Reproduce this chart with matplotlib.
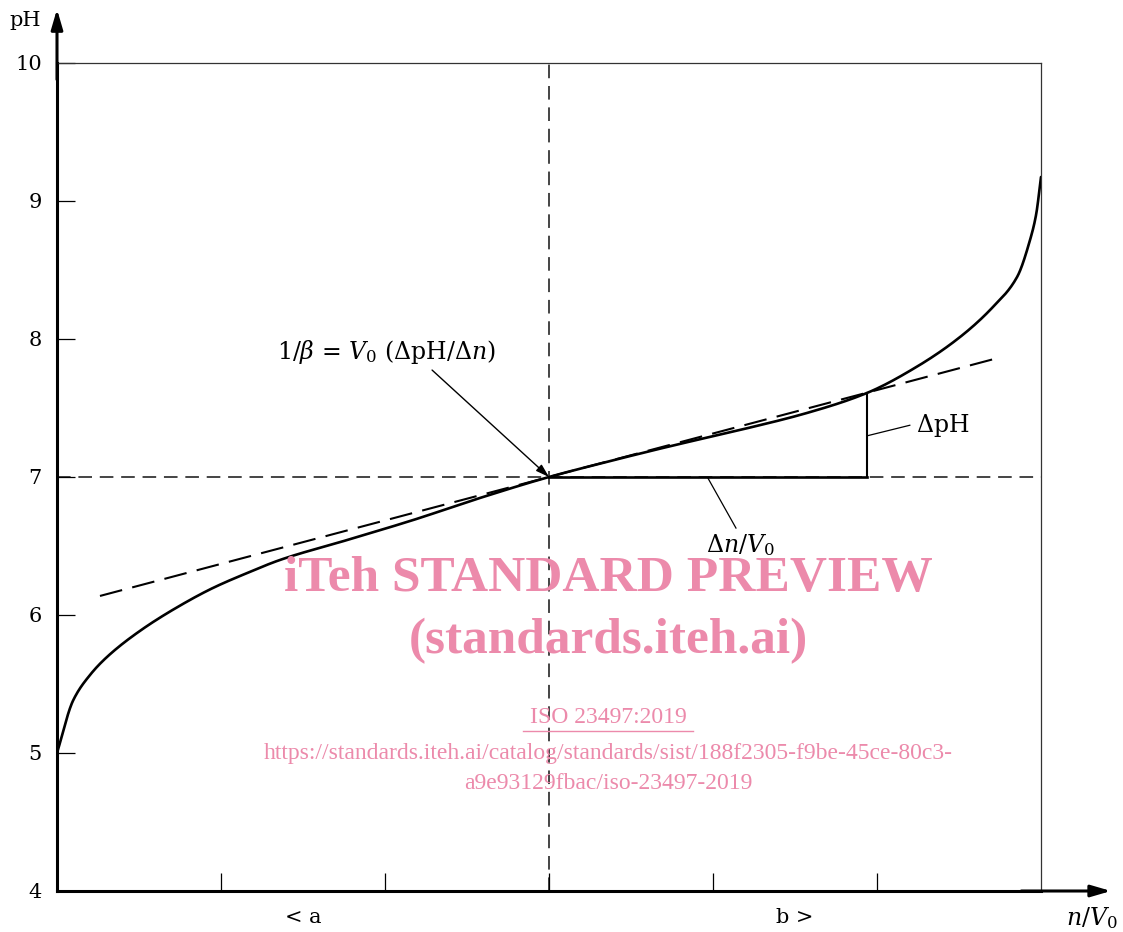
import numpy as np
import matplotlib.pyplot as plt

plt.rcParams['mathtext.fontset'] = 'dejavuserif'
plt.rcParams['font.family'] = 'DejaVu Serif'

# titration curve (x = n/V0 in tick units, y = pH)
curve_x = [-3.0, -2.902, -2.799, -2.695, -2.494, -2.25, -2.049, -1.841, -1.64,
           -1.232, -0.829, -0.421, 0.0, 0.354, 0.756, 1.165, 1.573, 1.939,
           2.244, 2.506, 2.707, 2.854, 2.933, 2.97, 3.0]
curve_ph = [5.0, 5.38, 5.565, 5.696, 5.885, 6.068, 6.196, 6.304, 6.399,
            6.543, 6.688, 6.848, 7.0, 7.11, 7.228, 7.341, 7.464, 7.609,
            7.80, 8.014, 8.232, 8.449, 8.717, 8.9, 9.174]

# tangent at the equivalence point
tangent_x = [-2.738, 2.72]
tangent_ph = [6.138, 7.857]

# the delta triangle
tri_x = 1.939
tri_ph = 7.609

y_ticks = [4, 5, 6, 7, 8, 9, 10]
x_ticks = [-2, -1, 0, 1, 2]
x_label_pos = [-1.5, 0, 1.5]
x_labels = ['< a', '0', 'b >']


def pchip(xs, ys, n=25):
    # monotone cubic through the read points, just so the line has no corners
    x = np.asarray(xs, float)
    y = np.asarray(ys, float)
    h = np.diff(x)
    dl = np.diff(y) / h
    d = np.zeros_like(y)
    d[0], d[-1] = dl[0], dl[-1]
    for k in range(1, len(x) - 1):
        if dl[k - 1] * dl[k] > 0:
            w1 = 2 * h[k] + h[k - 1]
            w2 = h[k] + 2 * h[k - 1]
            d[k] = (w1 + w2) / (w1 / dl[k - 1] + w2 / dl[k])
    px, py = [], []
    for k in range(len(x) - 1):
        t = np.linspace(0, 1, n, endpoint=False)
        h00 = 2 * t**3 - 3 * t**2 + 1
        h10 = t**3 - 2 * t**2 + t
        h01 = -2 * t**3 + 3 * t**2
        h11 = t**3 - t**2
        px.append(x[k] + t * h[k])
        py.append(h00 * y[k] + h10 * h[k] * d[k] + h01 * y[k + 1] + h11 * h[k] * d[k + 1])
    px.append([x[-1]])
    py.append([y[-1]])
    return np.concatenate(px), np.concatenate(py)


fig = plt.figure(figsize=(11.23, 9.32), dpi=100)
ax = fig.add_axes([57/1123, 41/932, 984/1123, 828/932])
ax.set_xlim(-3, 3)
ax.set_ylim(4, 10)

# frame
for s in ['top', 'right']:
    ax.spines[s].set_linewidth(0.9)
    ax.spines[s].set_color('#333333')
for s in ['left', 'bottom']:
    ax.spines[s].set_linewidth(2.2)
    ax.spines[s].set_color('black')

# axis arrows
arrow = dict(arrowstyle='-|>,head_length=1.2,head_width=0.35',
             color='black', lw=2.2, shrinkA=0, shrinkB=0)
ax.annotate('', xy=(0, 1.065), xytext=(0, 0.98), xycoords='axes fraction',
            arrowprops=arrow, annotation_clip=False)
ax.annotate('', xy=(1.0 + 70/984, 0), xytext=(0.98, 0), xycoords='axes fraction',
            arrowprops=arrow, annotation_clip=False)

ax.set_yticks(y_ticks)
ax.set_yticklabels([str(v) for v in y_ticks], fontsize=15)
ax.tick_params(axis='y', direction='in', length=13, width=0.9, pad=11, colors='black')
ax.set_xticks(x_ticks)
ax.set_xticklabels(['' for _ in x_ticks])
ax.tick_params(axis='x', direction='in', length=13, width=0.9)
ax.set_xticks(x_label_pos, minor=True)
ax.set_xticklabels(x_labels, minor=True, fontsize=15)
ax.tick_params(axis='x', which='minor', length=0, pad=12)

# reference dashed lines
ax.axhline(7, color='#444444', lw=1.4, ls=(0, (7, 4)), zorder=1)
ax.axvline(0, color='#444444', lw=1.4, ls=(0, (7, 4)), zorder=1)

# curve and tangent
sx, sy = pchip(curve_x, curve_ph)
ax.plot(sx, sy, color='black', lw=1.9, zorder=3, solid_capstyle='round')
ax.plot(tangent_x, tangent_ph, color='black', lw=1.5, ls=(0, (11, 5)), zorder=3)

# triangle
ax.plot([0, tri_x], [7, 7], color='black', lw=1.9, zorder=3)
ax.plot([tri_x, tri_x], [7, tri_ph], color='black', lw=1.5, zorder=3)

# annotations
ax.annotate('', xy=(0, 7), xytext=(-0.713, 7.775),
            arrowprops=dict(arrowstyle='-|>,head_length=0.8,head_width=0.25',
                            color='black', lw=1.0, shrinkA=0, shrinkB=0))
ax.text(-0.994, 7.906, r'$1/\beta$ = $V_0$ ($\Delta\mathrm{pH}/\Delta n$)', fontsize=17,
        ha='center', va='center')
ax.plot([1.945, 2.2], [7.3, 7.375], color='black', lw=0.9)
ax.text(2.24, 7.375, r'$\Delta\mathrm{pH}$', fontsize=17, ha='left', va='center')
ax.plot([0.97, 1.14], [6.99, 6.63], color='black', lw=0.9)
ax.text(1.17, 6.51, r'$\Delta n/V_0$', fontsize=17, ha='center', va='center')

# axis titles
fig.text(25/1123, 1 - 20/932, 'pH', fontsize=15, ha='center', va='center')
fig.text(1092/1123, 1 - 918/932, r'$n/V_0$', fontsize=17, ha='center', va='center')

# watermark
pink = '#ec8aab'
ax.text(0.36, 6.26, 'iTeh STANDARD PREVIEW', fontsize=37, fontweight='bold',
        family='Liberation Serif', color=pink, ha='center', va='center')
ax.text(0.36, 5.81, '(standards.iteh.ai)', fontsize=37, fontweight='bold',
        family='Liberation Serif', color=pink, ha='center', va='center')
ax.text(0.36, 5.26, 'ISO 23497:2019', fontsize=17, family='Liberation Serif',
        color=pink, ha='center', va='center')
ax.plot([-0.16, 0.88], [5.16, 5.16], color=pink, lw=1.0)
ax.text(0.36, 5.0, 'https://standards.iteh.ai/catalog/standards/sist/188f2305-f9be-45ce-80c3-',
        fontsize=17, family='Liberation Serif', color=pink, ha='center', va='center')
ax.text(0.36, 4.78, 'a9e93129fbac/iso-23497-2019', fontsize=17,
        family='Liberation Serif', color=pink, ha='center', va='center')

fig.savefig('out.png', dpi=100)
